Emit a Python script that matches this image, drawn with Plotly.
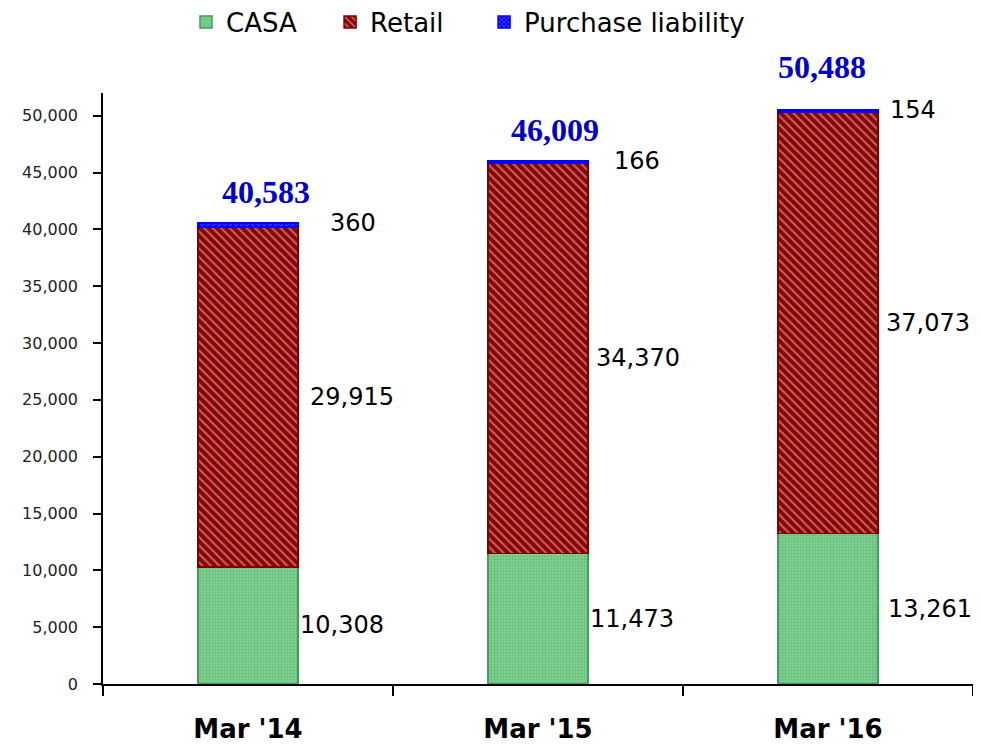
import plotly.graph_objects as go

categories = ["Mar '14", "Mar '15", "Mar '16"]
casa = [10308, 11473, 13261]
retail = [29915, 34370, 37073]
purchase = [360, 166, 154]
totals = [40583, 46009, 50488]

fig = go.Figure()

fig.add_trace(go.Bar(
    name="CASA", x=categories, y=casa, width=0.345, legend="legend",
    marker=dict(color="#6cc47f", line=dict(color="#3f9e5e", width=1.5),
                pattern=dict(shape=".", fgcolor="#3f9e5e", bgcolor="#80d08f", size=3, solidity=0.35)),
))
fig.add_trace(go.Bar(
    name="Retail", x=categories, y=retail, width=0.345, legend="legend2",
    marker=dict(color="#8b0000", line=dict(color="#800000", width=1.5),
                pattern=dict(shape="\\", fgcolor="#f0d0d0", bgcolor="#8b0000", size=6, solidity=0.35)),
))
fig.add_trace(go.Bar(
    name="Purchase liability", x=categories, y=purchase, width=0.345, legend="legend3",
    marker=dict(color="#0000ff", line=dict(color="#0000ff", width=1.5),
                pattern=dict(shape="x", fgcolor="#ffffff", bgcolor="#0000ff", size=4, solidity=0.3)),
))

lab_font = dict(family="DejaVu Sans", size=24, color="#000000")
casa_dx = [0, 0, 8]
retail_dx = [10, 6, 6]
purch_dx = [30, 24, 10]
tot_dx = [18, 17, -6]
tot_dy = [31, 31, 43]
for i, c in enumerate(categories):
    fig.add_annotation(x=i, y=casa[i] / 2, text=f"{casa[i]:,}", showarrow=False,
                       xanchor="left", yanchor="middle", xshift=50 + casa_dx[i], font=lab_font)
    fig.add_annotation(x=i, y=casa[i] + retail[i] / 2, text=f"{retail[i]:,}", showarrow=False,
                       xanchor="left", yanchor="middle", xshift=50 + retail_dx[i], font=lab_font)
    fig.add_annotation(x=i, y=totals[i], text=f"{purchase[i]:,}", showarrow=False,
                       xanchor="left", yanchor="middle", xshift=50 + purch_dx[i], font=lab_font)
    fig.add_annotation(x=i, y=totals[i], text=f"<b>{totals[i]:,}</b>", showarrow=False,
                       xanchor="center", yanchor="middle", xshift=tot_dx[i], yshift=tot_dy[i],
                       font=dict(family="Liberation Serif", size=32, color="#0000cc"))

leg_font = dict(family="DejaVu Sans", size=26, color="#000000")
leg_common = dict(orientation="h", y=1.12, yanchor="middle", xanchor="left",
                  font=leg_font, bgcolor="rgba(0,0,0,0)")

fig.update_layout(
    barmode="stack",
    width=965, height=737,
    margin=dict(l=95, r=0, t=85, b=61, autoexpand=False),
    plot_bgcolor="white", paper_bgcolor="white",
    showlegend=True,
    legend=dict(x=0.0954, **leg_common),
    legend2=dict(x=0.261, **leg_common),
    legend3=dict(x=0.438, **leg_common),
    xaxis=dict(type="category", range=[-0.5, 2.5], tickson="boundaries",
               ticks="outside", ticklen=10, tickwidth=1.5, tickcolor="#000",
               showline=True, linecolor="#000", linewidth=1.5, showgrid=False,
               tickfont=dict(family="DejaVu Sans", size=26, color="#000"),
               tickangle=0, automargin=False, ticklabelstandoff=21),
    yaxis=dict(range=[0, 52000], tickvals=list(range(0, 50001, 5000)), tickformat=",",
               ticks="outside", ticklen=8, tickwidth=1.5, tickcolor="#000",
               showline=True, linecolor="#000", linewidth=1.5, showgrid=False, zeroline=False,
               automargin=False, ticklabelstandoff=12,
               tickfont=dict(family="DejaVu Sans", size=16, color="#222")),
)
fig.update_xaxes(ticktext=[f"<b>{c}</b>" for c in categories], tickvals=categories)

fig.write_html("out.html")
